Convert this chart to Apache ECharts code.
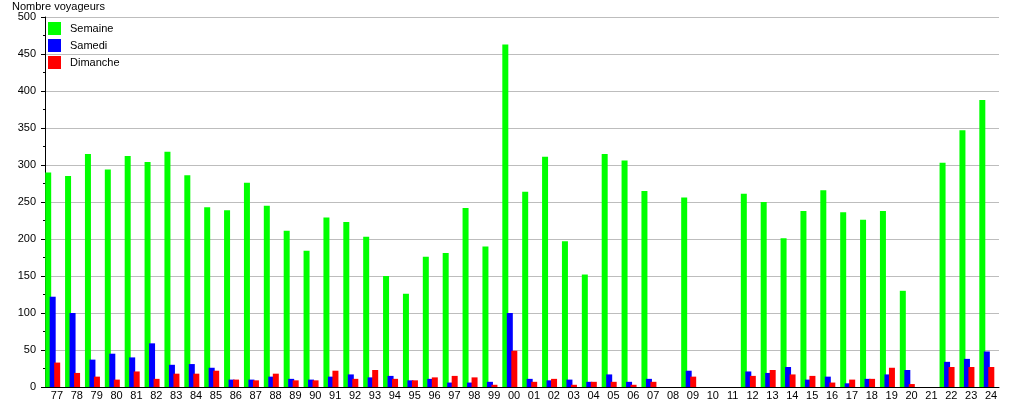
<!DOCTYPE html>
<html>
<head>
<meta charset="utf-8">
<script src="https://cdn.jsdelivr.net/npm/echarts@6/dist/echarts.min.js"></script>
<style>
html,body{margin:0;padding:0;background:#fff;}
#chart{width:1015px;height:400px;}
</style>
</head>
<body>
<div id="chart"></div>
<script>
const categories = ['77','78','79','80','81','82','83','84','85','86','87','88','89','90','91','92','93','94','95','96','97','98','99',
  '00','01','02','03','04','05','06','07','08','09','10','11','12','13','14','15','16','17','18','19','20','21','22','23','24'];
const semaine = [290,285,315,294,312,304,318,286,243,239,276,245,211,184,229,223,203,150,126,176,181,242,190,
  463,264,311,197,152,315,306,265,null,256,null,null,261,250,201,238,266,236,226,238,130,null,303,347,388];
const samedi = [122,100,37,45,40,59,30,31,26,10,10,14,11,10,14,17,13,15,9,11,6,6,7,
  100,11,9,10,7,17,7,11,null,22,null,null,21,19,27,10,14,5,11,17,23,null,34,38,48];
const dimanche = [33,19,14,10,21,11,18,18,22,10,9,18,9,9,22,11,23,11,9,13,15,13,3,
  49,7,11,3,7,7,3,7,null,14,null,null,15,23,17,15,6,10,11,26,4,null,27,27,27];
const yTicks = {min: 0, max: 500, interval: 50};

const chart = echarts.init(document.getElementById('chart'), null, {renderer: 'canvas'});
const font = 'Liberation Sans, Arial, sans-serif';
chart.setOption({
  animation: false,
  backgroundColor: '#fff',
  textStyle: {fontFamily: font},
  title: {
    text: 'Nombre voyageurs',
    left: 12, top: 1, padding: 0,
    textStyle: {fontSize: 11, fontWeight: 'normal', color: '#000', fontFamily: font}
  },
  legend: {
    orient: 'vertical',
    left: 48, top: 22, padding: 0,
    itemWidth: 13, itemHeight: 13, itemGap: 4,
    icon: 'rect',
    data: ['Semaine','Samedi','Dimanche'],
    textStyle: {fontSize: 11, color: '#000', fontFamily: font, padding: [0,0,0,4]},
    selectedMode: false
  },
  grid: {left: 45, top: 17, width: 954, height: 370, containLabel: false, outerBoundsMode: 'none'},
  xAxis: {
    type: 'category',
    data: categories,
    axisLine: {lineStyle: {color: '#000', width: 1}},
    axisTick: {show: false},
    axisLabel: {interval: 0, fontSize: 11, color: '#000', margin: 3, padding: [0,0,0,4], fontFamily: font},
    splitLine: {show: false}
  },
  yAxis: {
    type: 'value',
    min: yTicks.min, max: yTicks.max, interval: yTicks.interval,
    axisLine: {show: true, lineStyle: {color: '#000', width: 1}},
    axisTick: {show: true, length: 4, lineStyle: {color: '#000'}},
    minorTick: {show: true, splitNumber: 2, length: 2, lineStyle: {color: '#000'}},
    axisLabel: {fontSize: 11, color: '#000', margin: 9, fontFamily: font},
    splitLine: {show: true, lineStyle: {color: '#bdbdbd', width: 1}}
  },
  series: [
    {name: 'Semaine', type: 'bar', data: semaine, barWidth: 6, barGap: '-25%', itemStyle: {color: '#00ff00'}},
    {name: 'Samedi', type: 'bar', data: samedi, barWidth: 6, barGap: '-25%', itemStyle: {color: '#0000ff'}},
    {name: 'Dimanche', type: 'bar', data: dimanche, barWidth: 6, barGap: '-25%', itemStyle: {color: '#ff0000'}},
    {name: 'spacer', type: 'bar', data: [], barWidth: 6, barGap: '-25%', silent: true}
  ]
});
</script>
</body>
</html>
